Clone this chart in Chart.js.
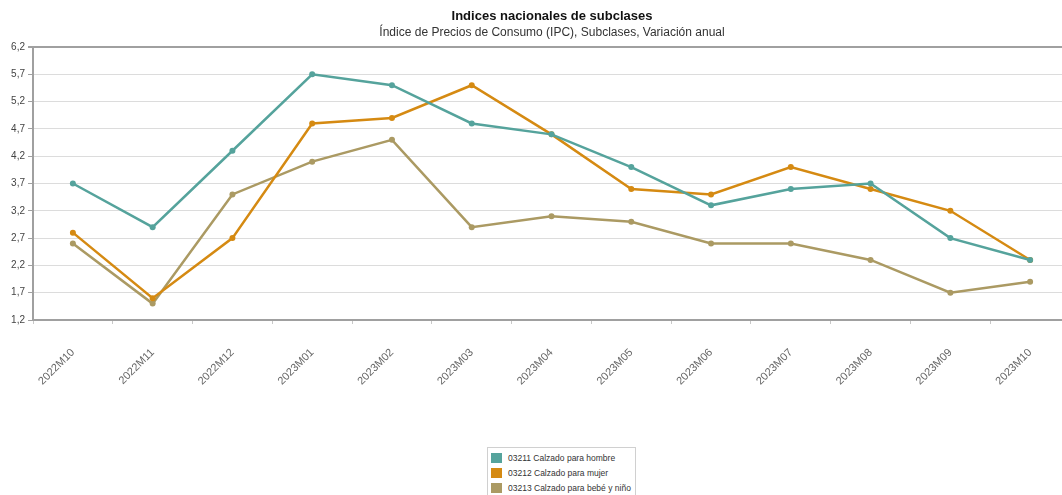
<!DOCTYPE html>
<html>
<head>
<meta charset="utf-8">
<script src="https://cdn.jsdelivr.net/npm/chart.js@4/dist/chart.umd.min.js"></script>
<style>
  html, body { margin: 0; padding: 0; background: #fff; overflow: hidden; }
  #wrap { position: relative; width: 1104px; height: 495px; }
  #legend {
    position: absolute; left: 487px; top: 447px; width: 147px; height: 60px;
    border: 1px solid #d0d0d0; background: #fff;
    font-family: "Liberation Sans", Arial, sans-serif; font-size: 8.5px; color: #333;
  }
  #legend .item { position: absolute; left: 3px; height: 11px; line-height: 11px; white-space: nowrap; }
  #legend .sw { display: inline-block; width: 11px; height: 10px; vertical-align: top; margin-right: 6px; }
</style>
</head>
<body>
<div id="wrap">
  <canvas id="chart" width="1104" height="495"></canvas>
  <div id="legend"></div>
</div>
<script>
const periods = ['2022M10', '2022M11', '2022M12', '2023M01', '2023M02', '2023M03', '2023M04',
  '2023M05', '2023M06', '2023M07', '2023M08', '2023M09', '2023M10'];

const hombre = [3.7, 2.9, 4.3, 5.7, 5.5, 4.8, 4.6, 4.0, 3.3, 3.6, 3.7, 2.7, 2.3];
const mujer  = [2.8, 1.6, 2.7, 4.8, 4.9, 5.5, 4.6, 3.6, 3.5, 4.0, 3.6, 3.2, 2.3];
const bebe   = [2.6, 1.5, 3.5, 4.1, 4.5, 2.9, 3.1, 3.0, 2.6, 2.6, 2.3, 1.7, 1.9];

const seriesNames = ['03211 Calzado para hombre', '03212 Calzado para mujer', '03213 Calzado para bebé y niño'];
const seriesColors = ['#55a39c', '#d58a12', '#ab9a63'];

const yMin = 1.2, yMax = 6.2, yStep = 0.5;

const fontFamily = '"Liberation Sans", Arial, sans-serif';

function makeSet(i, data) {
  return {
    label: seriesNames[i],
    data: data,
    borderColor: seriesColors[i],
    backgroundColor: seriesColors[i],
    borderWidth: 2.5,
    pointRadius: 3,
    pointBorderWidth: 0,
    tension: 0
  };
}

const ctx = document.getElementById('chart');

const chart = new Chart(ctx, {
  type: 'line',
  data: {
    labels: periods,
    datasets: [makeSet(0, hombre), makeSet(1, mujer), makeSet(2, bebe)]
  },
  options: {
    responsive: false,
    animation: false,
    layout: { padding: 0 },
    plugins: {
      legend: { display: false },
      tooltip: { enabled: false },
      title: {
        display: true,
        text: 'Indices nacionales de subclases',
        color: '#111',
        font: { family: fontFamily, size: 13, weight: 'bold', lineHeight: 1.2 },
        padding: { top: 9, bottom: 0 }
      },
      subtitle: {
        display: true,
        text: 'Índice de Precios de Consumo (IPC), Subclases, Variación anual',
        color: '#333',
        font: { family: fontFamily, size: 12, lineHeight: 1.2 },
        padding: { top: 1, bottom: 7 }
      }
    },
    scales: {
      x: {
        offset: true,
        grid: {
          offset: true,
          drawOnChartArea: false,
          drawTicks: true,
          tickLength: 4,
          color: '#c8c8c8'
        },
        border: { display: true, color: '#a0a0a0', width: 2 },
        ticks: {
          autoSkip: false,
          minRotation: 45,
          maxRotation: 45,
          color: '#666',
          padding: 22,
          font: { family: fontFamily, size: 11 }
        },
        afterFit(s) { s.height = 175; }
      },
      y: {
        min: yMin,
        max: yMax,
        grid: {
          color: (c) => (c.tick && c.tick.value >= yMax - 0.001) ? '#a0a0a0' : '#dcdcdc',
          lineWidth: (c) => (c.tick && c.tick.value >= yMax - 0.001) ? 2 : 1,
          tickLength: 5,
          tickColor: '#a0a0a0'
        },
        border: { display: true, color: '#a0a0a0', width: 2 },
        ticks: {
          stepSize: yStep,
          color: '#444',
          padding: 3,
          font: { family: fontFamily, size: 10 },
          callback: (v) => Number(v).toFixed(1).replace('.', ',')
        },
        afterFit(s) { s.width = 33; }
      },
      yR: {
        position: 'right',
        min: yMin,
        max: yMax,
        grid: { display: false },
        border: { display: false },
        ticks: { display: false },
        afterFit(s) { s.width = 34; }
      }
    }
  }
});

// legend built from the chart's datasets
const legendEl = document.getElementById('legend');
chart.data.datasets.forEach((ds, i) => {
  const item = document.createElement('div');
  item.className = 'item';
  item.style.top = (5 + i * 15) + 'px';
  const sw = document.createElement('span');
  sw.className = 'sw';
  sw.style.background = ds.borderColor;
  item.appendChild(sw);
  item.appendChild(document.createTextNode(ds.label));
  legendEl.appendChild(item);
});
</script>
</body>
</html>
